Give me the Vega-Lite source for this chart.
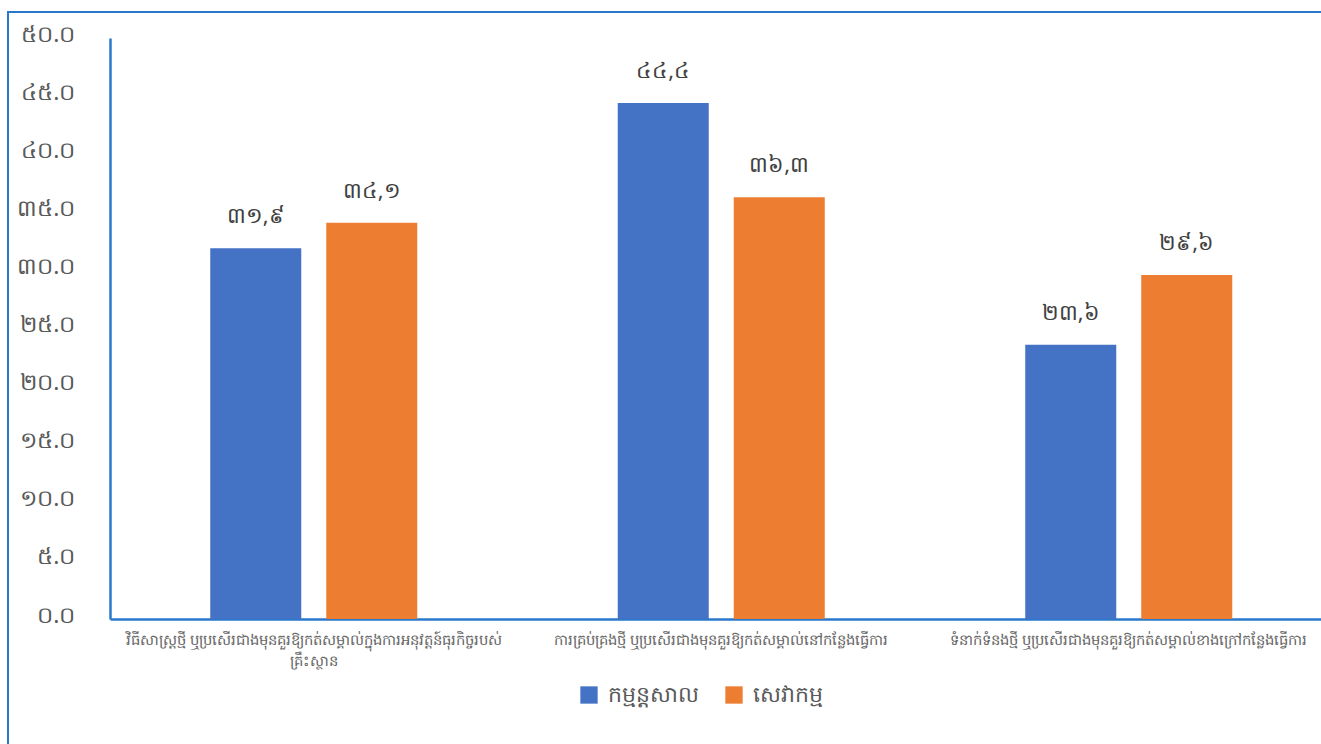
{
  "$schema": "https://vega.github.io/schema/vega-lite/v6.json",
  "autosize": "none",
  "padding": {"left": 8, "top": 12, "right": 0, "bottom": 0},
  "width": 1318,
  "height": 740,
  "background": "#ffffff",
  "config": {
    "view": {"stroke": "#2A78CC", "strokeWidth": 2},
    "font": "Noto Sans",
    "axis": {"grid": false}
  },
  "data": {
    "values": [
      {"category": "វិធីសាស្រ្តថ្មី ឬប្រសើរជាងមុនគួរឱ្យកត់សម្គាល់ក្នុងការអនុវត្តន៍ធុរកិច្ចរបស់|គ្រឹះស្ថាន", "series": "កម្មន្តសាល", "value": 31.9, "label": "៣១,៩"},
      {"category": "វិធីសាស្រ្តថ្មី ឬប្រសើរជាងមុនគួរឱ្យកត់សម្គាល់ក្នុងការអនុវត្តន៍ធុរកិច្ចរបស់|គ្រឹះស្ថាន", "series": "សេវាកម្ម", "value": 34.1, "label": "៣៤,១"},
      {"category": "ការគ្រប់គ្រងថ្មី ឬប្រសើរជាងមុនគួរឱ្យកត់សម្គាល់នៅកន្លែងធ្វើការ", "series": "កម្មន្តសាល", "value": 44.4, "label": "៤៤,៤"},
      {"category": "ការគ្រប់គ្រងថ្មី ឬប្រសើរជាងមុនគួរឱ្យកត់សម្គាល់នៅកន្លែងធ្វើការ", "series": "សេវាកម្ម", "value": 36.3, "label": "៣៦,៣"},
      {"category": "ទំនាក់ទំនងថ្មី ឬប្រសើរជាងមុនគួរឱ្យកត់សម្គាល់ខាងក្រៅកន្លែងធ្វើការ", "series": "កម្មន្តសាល", "value": 23.6, "label": "២៣,៦"},
      {"category": "ទំនាក់ទំនងថ្មី ឬប្រសើរជាងមុនគួរឱ្យកត់សម្គាល់ខាងក្រៅកន្លែងធ្វើការ", "series": "សេវាកម្ម", "value": 29.6, "label": "២៩,៦"}
    ]
  },
  "encoding": {
    "x": {
      "field": "category",
      "type": "nominal",
      "sort": null,
      "title": null,
      "scale": {"range": [102, 1324.5], "paddingInner": 0.492, "paddingOuter": 0.246},
      "axis": {
        "orient": "bottom",
        "offset": -133,
        "labelAngle": 0,
        "labelExpr": "split(datum.value, '|')",
        "labelFontSize": 14.8,
        "labelColor": "#666666",
        "labelPadding": 13,
        "labelLineHeight": 21,
        "labelLimit": 0,
        "ticks": false,
        "domainColor": "#2A78CC",
        "domainWidth": 2.5
      }
    },
    "xOffset": {"field": "series", "type": "nominal", "sort": ["កម្មន្តសាល", "សេវាកម្ម"], "scale": {"paddingInner": 0.2155, "paddingOuter": 0}},
    "y": {
      "field": "value",
      "type": "quantitative",
      "title": null,
      "scale": {"domain": [0, 50], "nice": false, "zero": true, "range": [607, 26]},
      "axis": {
        "orient": "left",
        "offset": -102,
        "values": [0, 5, 10, 15, 20, 25, 30, 35, 40, 45, 50],
        "labelExpr": "replace(replace(replace(replace(replace(replace(replace(replace(replace(replace(format(datum.value,'.1f'),regexp('0','g'),'០'),regexp('1','g'),'១'),regexp('2','g'),'២'),regexp('3','g'),'៣'),regexp('4','g'),'៤'),regexp('5','g'),'៥'),regexp('6','g'),'៦'),regexp('7','g'),'៧'),regexp('8','g'),'៨'),regexp('9','g'),'៩')",
        "labelFontSize": 23,
        "labelColor": "#595959",
        "labelPadding": 35,
        "labelOffset": -4,
        "ticks": false,
        "domainColor": "#2A78CC",
        "domainWidth": 2.5
      }
    }
  },
  "layer": [
    {
      "mark": {"type": "bar"},
      "encoding": {
        "color": {
          "field": "series",
          "type": "nominal",
          "sort": ["កម្មន្តសាល", "សេវាកម្ម"],
          "scale": {"range": ["#4472C4", "#ED7D31"]},
          "legend": {
            "title": null,
            "orient": "none",
            "direction": "horizontal",
            "legendX": 570,
            "legendY": 672,
            "symbolType": "square",
            "symbolSize": 300,
            "symbolStrokeWidth": 0,
            "labelFontSize": 22,
            "labelColor": "#595959",
            "columnPadding": 24,
            "labelOffset": 8
          }
        }
      }
    },
    {
      "mark": {"type": "text", "baseline": "bottom", "dy": -20, "fontSize": 22, "color": "#404040"},
      "encoding": {"text": {"field": "label"}}
    }
  ]
}
